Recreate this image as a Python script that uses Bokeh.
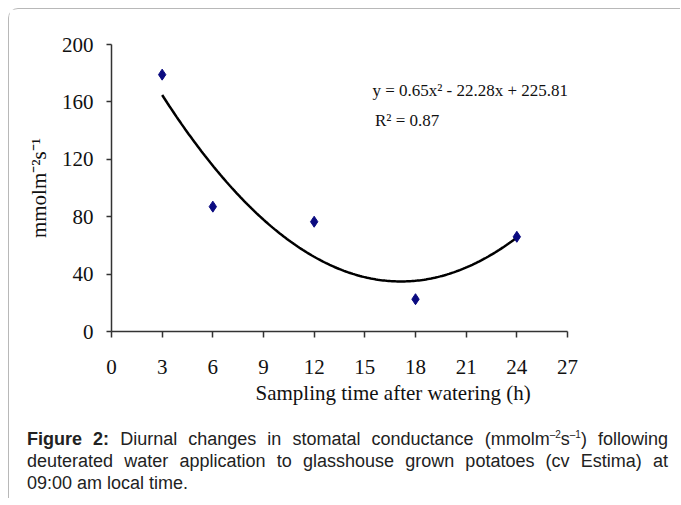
from bokeh.plotting import figure
from bokeh.models import Range1d, FixedTicker, Label, Div, Title
from bokeh.layouts import column
from bokeh.embed import file_html
from bokeh.resources import INLINE
import numpy as np

# Data
hours = [3, 6, 12, 18, 24]
conductance = [179, 87, 76.5, 22.5, 66]
x_ticks = [0, 3, 6, 9, 12, 15, 18, 21, 24, 27]
y_ticks = [0, 40, 80, 120, 160, 200]
# Trend line (quadratic fit shown on chart)
fit_a, fit_b, fit_c = 0.65, -22.28, 225.81
equation_text = "y = 0.65x\u00b2 - 22.28x + 225.81"
r2_text = "R\u00b2 = 0.87"
x_label = "Sampling time after watering (h)"
y_label = "mmolm\u207b\u00b2s\u207b\u00b9"

SERIF = "Liberation Serif"

p = figure(width=670, height=398, x_range=Range1d(0, 27), y_range=Range1d(0, 200),
           output_backend="svg", toolbar_location=None,
           min_border_left=102, min_border_right=112, min_border_top=35, min_border_bottom=76)
p.outline_line_color = None
p.grid.visible = False
p.background_fill_color = "white"
p.border_fill_color = "white"

for ax in (p.xaxis[0], p.yaxis[0]):
    ax.axis_line_color = "#333333"
    ax.axis_line_width = 1.5
    ax.major_tick_line_color = "#333333"
    ax.major_tick_line_width = 1.5
    ax.major_tick_in = 0
    ax.minor_tick_line_color = None
    ax.major_label_text_font = SERIF
    ax.major_label_text_font_size = "21px"
    ax.major_label_text_color = "#111111"

p.xaxis.ticker = FixedTicker(ticks=x_ticks)
p.yaxis.ticker = FixedTicker(ticks=y_ticks)
p.xaxis.major_tick_out = 6
p.yaxis.major_tick_out = 5
p.xaxis.major_label_standoff = 22
p.yaxis.major_label_standoff = 13

p.yaxis.axis_label = y_label
p.yaxis.axis_label_text_font = SERIF
p.yaxis.axis_label_text_font_style = "normal"
p.yaxis.axis_label_text_font_size = "21px"
p.yaxis.axis_label_text_color = "#111111"
p.yaxis.axis_label_standoff = 8

xs = np.linspace(hours[0], hours[-1], 200)
ys = fit_a * xs ** 2 + fit_b * xs + fit_c
p.line(xs, ys, line_color="black", line_width=2.5)

p.scatter(hours, conductance, marker="diamond", size=11,
          fill_color="#0a0a80", line_color="#0a0a80")

p.add_layout(Title(text=x_label, align="left", offset=144, standoff=4,
                   text_font=SERIF, text_font_size="21px", text_font_style="normal",
                   text_color="#111111"), "below")

p.add_layout(Label(x=15.45, y=168, text=equation_text, text_font=SERIF,
                   text_font_size="17px", text_color="#111111", text_baseline="middle"))
p.add_layout(Label(x=15.6, y=147, text=r2_text, text_font=SERIF,
                   text_font_size="17px", text_color="#111111", text_baseline="middle"))

just_style = "text-align:justify;text-align-last:justify;width:641px;"
caption = Div(
    text=('<div style="%s"><b>Figure 2:</b> Diurnal changes in stomatal conductance '
          '(mmolm<sup style="font-size:10px;line-height:0">\u20132</sup>s<sup style="font-size:10px;line-height:0">\u20131</sup>) following</div>'
          '<div style="%s">deuterated water application to glasshouse grown potatoes (cv Estima) at</div>'
          '<div style="text-align:left;">09:00 am local time.</div>') % (just_style, just_style),
    styles={"font-family": "'Liberation Sans', Arial, sans-serif", "font-size": "18px",
            "line-height": "22px", "color": "#222222"},
    width=641, margin=(21, 12, 4, 18))

layout = column(p, caption, margin=(8, 0, 0, 8),
                styles={"border-top": "1px solid #b8b8b8",
                        "border-left": "1px solid #b8b8b8",
                        "border-top-left-radius": "10px",
                        "background": "white"})

open("out.html", "w").write(file_html(layout, INLINE))
